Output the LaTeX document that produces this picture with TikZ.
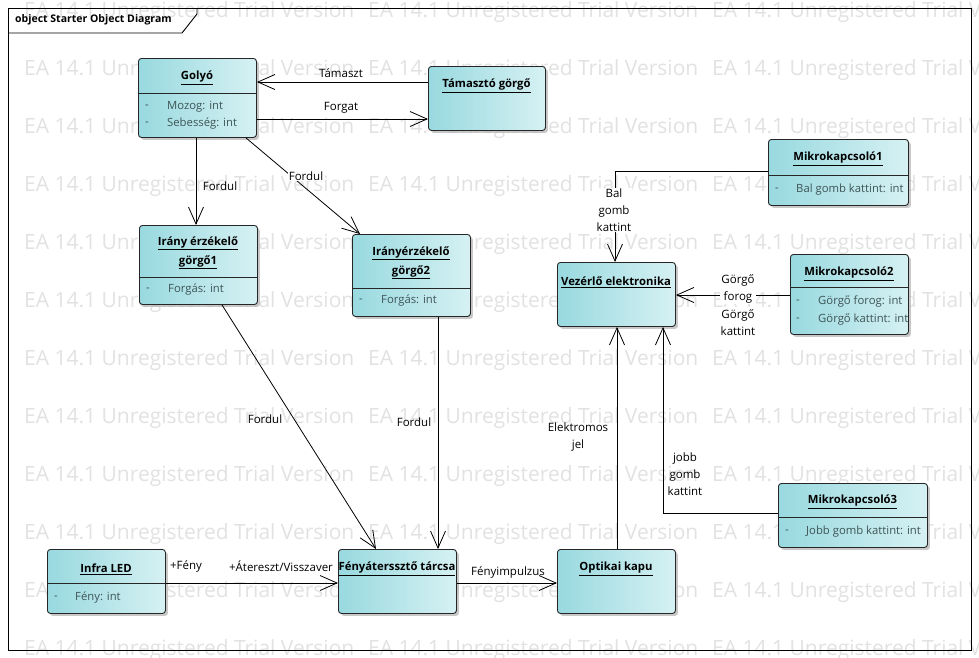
\documentclass[tikz,border=0pt]{standalone}
\usepackage{fontspec}
\setmainfont{Open Sans}
\usetikzlibrary{arrows.meta,shadows,calc}
\definecolor{boxL}{RGB}{152,217,223}
\definecolor{boxR}{RGB}{214,241,243}
\definecolor{attrtext}{RGB}{62,84,86}
\definecolor{wmgray}{RGB}{226,226,226}
\begin{document}
\begin{tikzpicture}[x=1pt,y=-1pt,
  objbox/.style={draw=black!85, line width=0.9pt, rounded corners=3pt,
    left color=boxL, right color=boxR, anchor=north west, inner sep=0pt,
    drop shadow={shadow xshift=2.5pt,shadow yshift=-2.5pt,fill=black!30,opacity=0.7}},
  divider/.style={draw=black!85, line width=0.9pt},
  ttl/.style={font=\bfseries\fontsize{11.3}{19}\selectfont, align=center, inner sep=0pt},
  attr/.style={font=\fontsize{11.3}{13}\selectfont, text=attrtext, anchor=west, inner sep=0pt},
  lbl/.style={font=\fontsize{11.5}{17}\selectfont, align=center, inner sep=1pt},
  lblw/.style={lbl, fill=white},
  assoc/.style={draw=black, line width=0.8pt, -{Straight Barb[length=17pt,width=15pt]}},
  wm/.style={font=\fontsize{21}{23}\selectfont, text=wmgray, anchor=west, inner sep=0pt},
  frame/.style={draw=black, line width=0.9pt}
]
\useasboundingbox (0,0) rectangle (979,657);
\fill[white] (0,0) rectangle (979,657);

% evaluation watermark rows
\foreach \r in {0,...,11}{
  \foreach \c in {0,1,2}{
    \node[wm] (wm-\r-\c) at (24+344*\c, 12+58*\r) {EA 14.1 Unregistered Trial Version};
  }
}

% diagram frame and its name tab
\draw[frame] (8,8) rectangle (971,650);
\draw[frame] (8,33) -- (182,33) -- (197,14) -- (197,8);
\node[font=\bfseries\fontsize{10.5}{13}\selectfont, anchor=west, inner sep=0pt] (frametitle) at (15,20) {object Starter Object Diagram};

% ---------- objects ----------
% Golyó
\node[objbox, minimum width=118pt, minimum height=79pt] (golyo) at (138,58) {};
\draw[divider] (golyo.west |- 0,93) -- (golyo.east |- 0,93);
\node[ttl] (golyo-t) at (197,78) {\underline{Golyó}};
\node[attr] (golyo-d1) at (145,107) {-};
\node[attr] (golyo-a1) at (167,107) {Mozog: int};
\node[attr] (golyo-d2) at (145,124) {-};
\node[attr] (golyo-a2) at (167,124) {Sebesség: int};

% Támasztó görgő
\node[objbox, minimum width=117pt, minimum height=64pt] (tamaszto) at (428,66) {};
\node[ttl] (tamaszto-t) at (486.5,86) {\underline{Támasztó görgő}};

% Irány érzékelő görgő1
\node[objbox, minimum width=118pt, minimum height=79pt] (irany1) at (139,225) {};
\draw[divider] (irany1.west |- 0,277) -- (irany1.east |- 0,277);
\node[ttl] (irany1-t) at (198,253) {\underline{Irány érzékelő}\\\underline{görgő1}};
\node[attr] (irany1-d1) at (146,290) {-};
\node[attr] (irany1-a1) at (168,290) {Forgás: int};

% Irányérzékelő görgő2
\node[objbox, minimum width=118pt, minimum height=82pt] (irany2) at (352,234) {};
\draw[divider] (irany2.west |- 0,288) -- (irany2.east |- 0,288);
\node[ttl] (irany2-t) at (411,263) {\underline{Irányérzékelő}\\\underline{görgő2}};
\node[attr] (irany2-d1) at (359,301) {-};
\node[attr] (irany2-a1) at (381,301) {Forgás: int};

% Vezérlő elektronika
\node[objbox, minimum width=118pt, minimum height=64pt] (vezerlo) at (557,262) {};
\node[ttl] (vezerlo-t) at (616,282) {\underline{Vezérlő elektronika}};

% Mikrokapcsoló1
\node[objbox, minimum width=140pt, minimum height=66pt] (mikro1) at (768,139) {};
\draw[divider] (mikro1.west |- 0,175) -- (mikro1.east |- 0,175);
\node[ttl] (mikro1-t) at (838,159) {\underline{Mikrokapcsoló1}};
\node[attr] (mikro1-d1) at (775,190) {-};
\node[attr] (mikro1-a1) at (796,190) {Bal gomb kattint: int};

% Mikrokapcsoló2
\node[objbox, minimum width=118pt, minimum height=80pt] (mikro2) at (790,254) {};
\draw[divider] (mikro2.west |- 0,287) -- (mikro2.east |- 0,287);
\node[ttl] (mikro2-t) at (849,274) {\underline{Mikrokapcsoló2}};
\node[attr] (mikro2-d1) at (796,302) {-};
\node[attr] (mikro2-a1) at (818,302) {Görgő forog: int};
\node[attr] (mikro2-d2) at (796,320) {-};
\node[attr] (mikro2-a2) at (818,320) {Görgő kattint: int};

% Mikrokapcsoló3
\node[objbox, minimum width=149pt, minimum height=64pt] (mikro3) at (778,483) {};
\draw[divider] (mikro3.west |- 0,517) -- (mikro3.east |- 0,517);
\node[ttl] (mikro3-t) at (852.5,502) {\underline{Mikrokapcsoló3}};
\node[attr] (mikro3-d1) at (785,532) {-};
\node[attr] (mikro3-a1) at (806,532) {Jobb gomb kattint: int};

% Infra LED
\node[objbox, minimum width=118pt, minimum height=64pt] (infra) at (47,549) {};
\draw[divider] (infra.west |- 0,583) -- (infra.east |- 0,583);
\node[ttl] (infra-t) at (106,569) {\underline{Infra LED}};
\node[attr] (infra-d1) at (54,598) {-};
\node[attr] (infra-a1) at (75,598) {Fény: int};

% Fényáterssztő tárcsa
\node[objbox, minimum width=118pt, minimum height=64pt] (tarcsa) at (338,549) {};
\node[ttl] (tarcsa-t) at (397,569) {\underline{Fényáterssztő tárcsa}};

% Optikai kapu
\node[objbox, minimum width=118pt, minimum height=64pt] (optikai) at (557,549) {};
\node[ttl] (optikai-t) at (616,569) {\underline{Optikai kapu}};

% ---------- links ----------
\draw[assoc] (tamaszto.west |- 0,82) -- (golyo.east |- 0,82);
\node[lbl] (l-tamaszt) at (341,73) {Támaszt};
\draw[assoc] (golyo.east |- 0,119) -- (tamaszto.west |- 0,119);
\node[lbl] (l-forgat) at (341,108) {Forgat};

\draw[assoc] (golyo.south -| 196,0) -- (irany1.north -| 196,0);
\node[lbl] (l-fordul1) at (220,186) {Fordul};
\draw[assoc] (golyo.south -| 246,0) -- (irany2.north -| 360,0);
\node[lblw] (l-fordul2) at (306,176) {Fordul};

\draw[assoc] (irany1.south -| 222,0) -- (tarcsa.north -| 376,0);
\node[lbl] (l-fordul3) at (265,419) {Fordul};
\draw[assoc] (irany2.south -| 438,0) -- (tarcsa.north -| 438,0);
\node[lbl] (l-fordul4) at (414,422) {Fordul};

\draw[assoc] (infra.east |- 0,583) -- (tarcsa.west |- 0,583);
\node[lbl] (l-feny) at (186,566) {+Fény};
\node[lbl] (l-ateresz) at (281,566) {+Átereszt/Visszaver};
\draw[assoc] (tarcsa.east |- 0,583) -- (optikai.west |- 0,583);
\node[lbl] (l-impulzus) at (508,572) {Fényimpulzus};

\draw[assoc] (optikai.north -| 617,0) -- (vezerlo.south -| 617,0);
\node[lbl] (l-elektromos) at (578,437) {Elektromos\\jel};

\draw[assoc] (mikro3.west |- 0,513) -| (vezerlo.south -| 663,0);
\node[lbl] (l-jobb) at (685,474) {jobb\\gomb\\kattint};

\draw[assoc] (mikro1.west |- 0,171) -| (vezerlo.north -| 615,0);
\node[lblw] (l-bal) at (614,210) {Bal\\gomb\\kattint};

\draw[assoc] (mikro2.west |- 0,295) -- (vezerlo.east |- 0,295);
\node[lblw] (l-gforog) at (738,288.5) {Görgő\\forog};
\node[lbl] (l-gkattint) at (738,323) {Görgő\\kattint};
\end{tikzpicture}
\end{document}
